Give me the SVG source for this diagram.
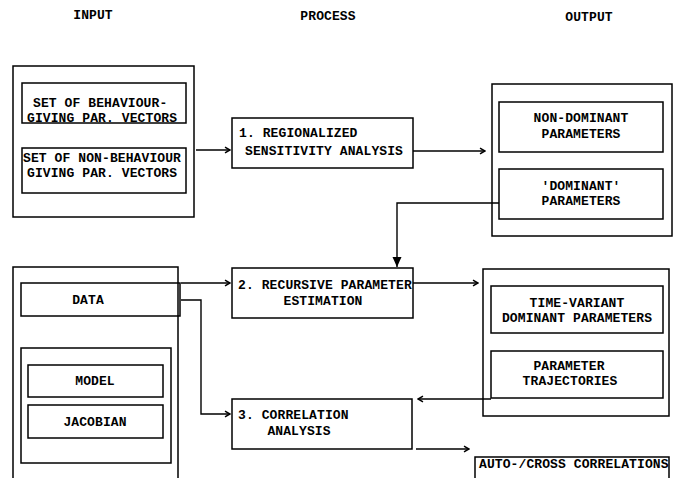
<svg xmlns="http://www.w3.org/2000/svg" width="676" height="478" viewBox="0 0 676 478">
<style>
  .box{fill:none;stroke:#000;stroke-width:1.5}
  .ln{fill:none;stroke:#000;stroke-width:1.4}
  text{font-family:"Liberation Mono","DejaVu Sans Mono",monospace;font-weight:bold;font-size:13px;letter-spacing:0.1px;fill:#000}
  .m{text-anchor:middle}
</style>
<defs>
  <marker id="chev" viewBox="0 0 8 8" refX="7" refY="4" markerWidth="8" markerHeight="8" orient="auto" markerUnits="userSpaceOnUse">
    <path d="M2,1.2 L7,4 L2,6.8" fill="none" stroke="#000" stroke-width="1.5"/>
  </marker>
  <marker id="tri" viewBox="0 0 10 10" refX="10" refY="5" markerWidth="10" markerHeight="10" orient="auto" markerUnits="userSpaceOnUse">
    <path d="M0,0.5 L10,5 L0,9.5 Z" fill="#000"/>
  </marker>
</defs>

<g id="headers">
  <text x="93" y="19" class="m">INPUT</text>
  <text x="328" y="20" class="m">PROCESS</text>
  <text x="589" y="21" class="m">OUTPUT</text>
</g>

<g id="input1">
  <rect class="box" x="13" y="66" width="181" height="151"/>
  <g id="behaviour">
    <rect class="box" x="22" y="83" width="164" height="40"/>
    <text x="33" y="107">SET OF BEHAVIOUR-</text>
    <text x="27" y="122">GIVING PAR. VECTORS</text>
  </g>
  <g id="nonbehaviour">
    <rect class="box" x="22" y="148" width="164" height="45"/>
    <text x="23" y="162">SET OF NON-BEHAVIOUR</text>
    <text x="27" y="177">GIVING PAR. VECTORS</text>
  </g>
</g>

<g id="process1">
  <rect class="box" x="232" y="118" width="181" height="50"/>
  <text x="239" y="137">1. REGIONALIZED</text>
  <text x="245" y="155">SENSITIVITY ANALYSIS</text>
</g>

<g id="output1">
  <rect class="box" x="492" y="84" width="180" height="152"/>
  <g id="nondominant">
    <rect class="box" x="499" y="102" width="164" height="50"/>
    <text x="581" y="122" class="m">NON-DOMINANT</text>
    <text x="581" y="138" class="m">PARAMETERS</text>
  </g>
  <g id="dominant">
    <rect class="box" x="499" y="169" width="164" height="50"/>
    <text x="581" y="190" class="m">'DOMINANT'</text>
    <text x="581" y="205" class="m">PARAMETERS</text>
  </g>
</g>

<g id="input2">
  <path class="box" d="M13,480 V267 H178 V480"/>
  <g id="data">
    <rect class="box" x="21" y="283" width="159" height="33"/>
    <text x="88" y="304" class="m">DATA</text>
  </g>
  <g id="modelgroup">
    <rect class="box" x="21" y="348" width="150" height="115"/>
    <g id="model">
      <rect class="box" x="28" y="365" width="135" height="32"/>
      <text x="95" y="385" class="m">MODEL</text>
    </g>
    <g id="jacobian">
      <rect class="box" x="28" y="405" width="135" height="33"/>
      <text x="95" y="426" class="m">JACOBIAN</text>
    </g>
  </g>
</g>

<g id="process2">
  <rect class="box" x="232" y="268" width="181" height="50"/>
  <text x="238" y="289">2. RECURSIVE PARAMETER</text>
  <text x="323" y="305" class="m">ESTIMATION</text>
</g>

<g id="process3">
  <rect class="box" x="232" y="399" width="180" height="50"/>
  <text x="238" y="419">3. CORRELATION</text>
  <text x="299" y="435" class="m">ANALYSIS</text>
</g>

<g id="output2">
  <rect class="box" x="483" y="269" width="186" height="147"/>
  <g id="timevariant">
    <rect class="box" x="491" y="286" width="172" height="47"/>
    <text x="577" y="307" class="m">TIME-VARIANT</text>
    <text x="577" y="322" class="m">DOMINANT PARAMETERS</text>
  </g>
  <g id="trajectories">
    <rect class="box" x="491" y="351" width="172" height="47"/>
    <text x="569" y="370" class="m">PARAMETER</text>
    <text x="570" y="385" class="m">TRAJECTORIES</text>
  </g>
</g>

<g id="output3">
  <path class="box" d="M475,480 V457 H669 V480"/>
  <text x="479" y="468">AUTO-/CROSS CORRELATIONS</text>
</g>

<g id="connectors">
  <line class="ln" x1="196" y1="150" x2="230" y2="150" marker-end="url(#chev)"/>
  <line class="ln" x1="413" y1="151" x2="485" y2="151" marker-end="url(#chev)"/>
  <path class="ln" d="M499,203 H397 V267" marker-end="url(#tri)"/>
  <line class="ln" x1="181" y1="283" x2="230" y2="283" marker-end="url(#chev)"/>
  <line class="ln" x1="413" y1="283" x2="478" y2="283" marker-end="url(#chev)"/>
  <path class="ln" d="M181,300 H201 V414 H230" marker-end="url(#chev)"/>
  <line class="ln" x1="491" y1="399" x2="418" y2="399" marker-end="url(#chev)"/>
  <line class="ln" x1="416" y1="449" x2="469" y2="449" marker-end="url(#chev)"/>
</g>
</svg>
